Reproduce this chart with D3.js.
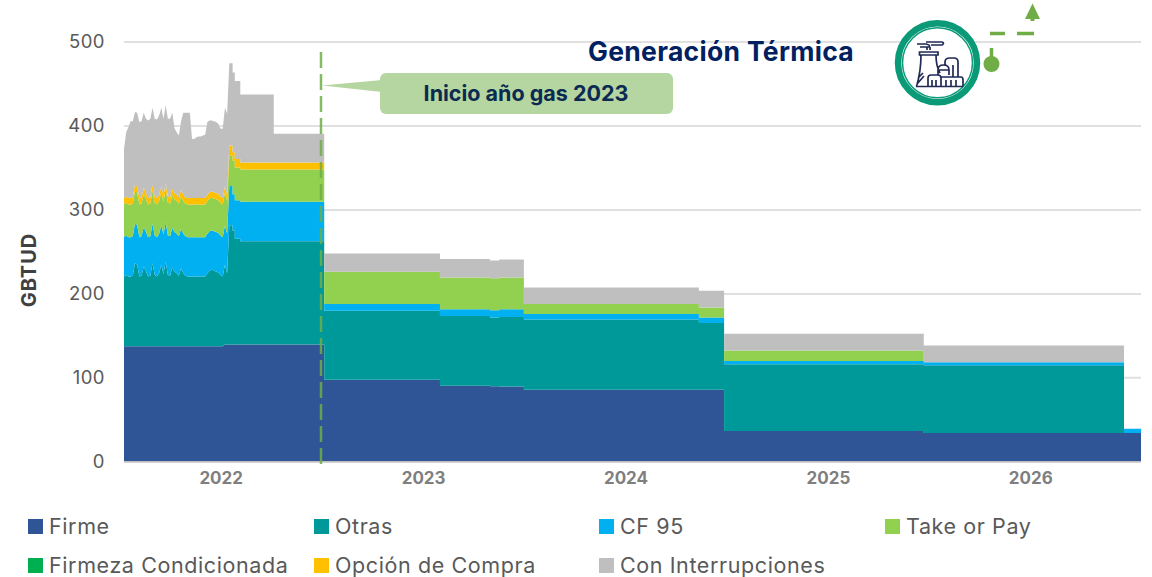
<!DOCTYPE html>
<html><head><meta charset="utf-8">
<script src="https://cdn.jsdelivr.net/npm/d3@7"></script>
<style>html,body{margin:0;padding:0;background:#fff}svg{display:block}text{font-family:Inter,"Open Sans",sans-serif}</style>
</head><body><div id="c"></div>
<script>
const yearLabels=["2022","2023","2024","2025","2026"];
const yTicks=[0,100,200,300,400,500];
const legendNames=["Firme","Otras","CF 95","Take or Pay","Firmeza Condicionada","Opción de Compra","Con Interrupciones"];
const seriesKeys=["firme","otras","cf95","take","firmeza","opcion","inter"];
const seriesColors=["#2f5597","#009999","#00b0f0","#92d050","#00b050","#ffc000","#bfbfbf"];
const days=[0,4,8,12,16,20,24,28,32,36,40,44,48,52,56,60,64,68,72,76,80,84,88,92,96,100,104,108,112,116,120,124,128,132,136,140,144,148,152,156,160,164,168,172,176,180,184,188,
 192,198,202,212,273,365,576,667,684,729,1048,1094,1458,1823,1854];
const firme=[137,137,137,137,137,137,137,137,137,137,137,137,137,137,137,137,137,137,137,137,137,137,137,137,137,137,137,137,137,137,137,137,137,137,137,137,137,137,137,137,137,137,137,137,137,137,139,139,
 139,139,139,139,139,97,90,89.3,89,85.3,85.3,36,33.8,33.8,33.8];
const otras=[83,85,83,83,84,99,97,83,84,95,89,83,84,99,85,83,87,97,86,101,85,84,94,89,87,84,93,87,84,83,83,83,83,83,83,83,83,83,87,90,91,90,89,88,85,83,95,85,
 142,136,126,123,123,82.4,83,82.1,83,83.7,79.4,79.5,80.5,0,0];
const cf95=[47,47,47,47,47,47,47,47,47,47,47,47,47,47,47,47,47,47,47,47,47,47,47,47,47,47,47,47,47,47,47,47,47,47,47,47,47,47,47,47,47,47,47,47,47,47,47,47,
 47,43,46,47,47,7.9,8,8.4,9,6.4,6.7,4,3.7,5,5];
const take=[39,39,39,39,39,39,39,39,39,39,39,39,39,39,39,39,39,39,39,39,39,39,39,39,39,39,39,39,39,39,39,39,39,39,39,39,39,39,39,39,39,39,39,39,39,39,39,39,
 36,40,39,38.5,38.5,38.5,38,38.2,38,11.9,11.9,12.5,0,0,0];
const firmeza=days.map(()=>0);
const opcion=[7.5,7.5,7.5,7.5,7.5,7.5,7.5,7.5,7.5,7.5,7.5,7.5,7.5,7.5,7.5,7.5,7.5,7.5,7.5,7.5,7.5,7.5,7.5,7.5,7.5,7.5,7.5,7.5,7.5,7.5,7.5,7.5,7.5,7.5,7.5,7.5,7.5,7.5,7.5,7.5,7.5,7.5,7.5,7.5,7.5,7.5,7.5,7.5,
 12,10,10,8.5,8.5,0,0,0,0,0,0,0,0,0,0];
const inter=[58.5,76.5,84.5,91.5,90.5,86.5,87.5,90.5,90.5,89.5,88.5,92.5,93.5,91.5,92.5,93.5,94.5,93.5,91.5,92.5,92.5,93.5,90.5,77.5,74.5,73.5,81.5,97.5,100.5,101.5,101.5,70.5,70.5,72.5,73.5,73.5,74.5,75.5,86.5,85.5,84.5,84.5,84.5,83.5,80.5,82.5,93.5,96.5,
 98,95,93,81,34,21.8,22,21.3,21.5,19.7,19.7,20,20,0,0];
const colData={firme,otras,cf95,take,firmeza,opcion,inter};
const firstFlatIndex=49; // daily profile before this row is sloped, contract periods after it are flat steps

const W=1152,H=577,L=124,R=1141,Y0=461.3,Y500=41.5,ink="#595959";
const svg=d3.select("#c").append("svg").attr("width",W).attr("height",H);
const x=d3.scaleLinear().domain([0,1854]).range([L,R]);
const y=d3.scaleLinear().domain([0,500]).range([Y0,Y500]);
const xBand=d3.scaleBand().domain(yearLabels).range([120,1132]);

const gy=svg.append("g").attr("transform",`translate(${L},0)`)
 .call(d3.axisLeft(y).tickValues(yTicks).tickSize(-(R-L)).tickPadding(19));
gy.select(".domain").remove();
gy.selectAll("line").attr("stroke","#e0e0e0").attr("stroke-width",2);
gy.selectAll("text").attr("fill",ink).style("font-size","18.5px").style("letter-spacing","0.5px");

// rows: the contract periods hold their value until the next period starts
const rows=[];
days.forEach((d,i)=>{
 const o={day:d};seriesKeys.forEach(k=>o[k]=colData[k][i]);
 if(i>=firstFlatIndex){const p={day:d};seriesKeys.forEach(k=>p[k]=colData[k][i-1]);rows.push(p);}
 rows.push(o);
});
const stacked=d3.stack().keys(seriesKeys)(rows);
const area=d3.area().curve(d3.curveLinear).x(d=>x(d.data.day)).y0(d=>y(d[0])).y1(d=>y(d[1]));
svg.append("g").selectAll("path").data(stacked).join("path")
 .attr("fill",(d,i)=>seriesColors[i]).attr("d",area);

const gx=svg.append("g").attr("transform",`translate(0,${Y0})`).call(d3.axisBottom(xBand).tickSize(0).tickPadding(11));
gx.select(".domain").attr("d",`M${L},0.5H${R}`).attr("stroke","#bfbfbf").attr("stroke-width",1.5);
gx.selectAll("text").attr("fill","#7f7f7f").style("font-size","17px").style("font-weight","700");

svg.append("text").attr("transform","translate(36,270) rotate(-90)").attr("text-anchor","middle")
 .attr("fill","#404040").style("font-size","20px").style("font-weight","700").style("letter-spacing","1px").text("GBTUD");

svg.append("line").attr("x1",321).attr("x2",321).attr("y1",52).attr("y2",465)
 .attr("stroke","#70ad47").attr("stroke-width",2.5).attr("stroke-dasharray","16 6").attr("opacity",.85);
svg.append("path").attr("d","M322,85.5L382,80V92Z").attr("fill","#b5d6a0");
svg.append("rect").attr("x",380).attr("y",73).attr("width",293).attr("height",41).attr("rx",6).attr("fill","#b5d6a0");
svg.append("text").attr("x",526).attr("y",100.5).attr("text-anchor","middle").attr("fill","#0b2a52")
 .style("font-size","21.5px").style("font-weight","700").text("Inicio año gas 2023");
svg.append("text").attr("x",721).attr("y",60.5).attr("text-anchor","middle").attr("fill","#002060")
 .style("font-size","26.5px").style("font-weight","700").style("letter-spacing","0.3px").text("Generación Térmica");

const ic=svg.append("g").attr("fill","none");
ic.append("circle").attr("cx",937.5).attr("cy",62.7).attr("r",39.5).attr("stroke","#0a9a78").attr("stroke-width",6.5).attr("fill","#fff");
ic.append("circle").attr("cx",937.5).attr("cy",62.7).attr("r",35).attr("stroke","#0a9a78").attr("stroke-width",1.5);
ic.append("path").attr("stroke","#1f2a55").attr("stroke-width",1.7).attr("d",
 "M919.5,52H938V55H919.5ZM921,55C921,68 919,78 916.5,86.5M936,55C936,62 937,68 940,73M916,86.5H963"
 +"M928,86.5V78Q928,75 931,75H938Q941,75 941,78V86.5M941,77H961Q963,77 963,80V86.5"
 +"M938,75V70Q938,65 943.5,65Q949,65 949,70V75M938,70H949M945,65V62Q945,58 950,58H954Q958,58 958,62V77M953,65V77"
 +"M932,80V86M936,80V86M946,80V86M951,80V86M956,80V86M917,84L924,76M918,78L923,73"
 +"M917,44H926Q931,45 929,47H920M926,42H942Q945,43 942,45H931M930,47V50M927,47V50");
ic.append("path").attr("stroke","#70ad47").attr("stroke-width",3.5).attr("d","M990,33.5H1005M1017,33.5H1034M991.5,48V58");
ic.append("circle").attr("cx",991.5).attr("cy",64).attr("r",8).attr("fill","#70ad47");
ic.append("path").attr("fill","#70ad47").attr("d","M1032.5,3.5L1040,19H1034.5V21H1030.5V19H1025Z");

const legCols=[28,314,599,885],legRows=[519,558];
legendNames.forEach((n,i)=>{
 const cx=legCols[i%4],cy=legRows[Math.floor(i/4)];
 svg.append("rect").attr("x",cx).attr("y",cy).attr("width",15).attr("height",15).attr("fill",seriesColors[i]);
 svg.append("text").attr("x",cx+21).attr("y",cy+14.5).attr("fill",ink).style("font-size","21.5px").style("letter-spacing","0.6px").text(n);
});
</script></body></html>
